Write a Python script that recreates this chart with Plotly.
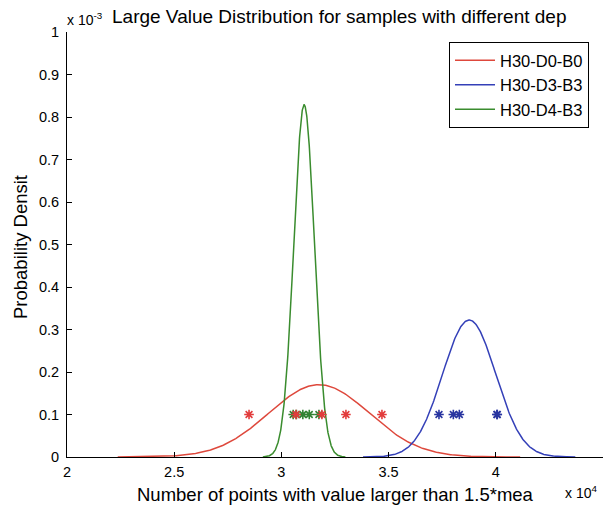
import numpy as np
import plotly.graph_objects as go

# Sample counts (number of points with value larger than 1.5*mean) per configuration
labels = ["H30-D0-B0", "H30-D3-B3", "H30-D4-B3"]
samples_d0_b0 = [28490, 30680, 31890, 33010, 34690]
samples_d3_b3 = [37350, 38020, 38300, 40050, 40070]
samples_d4_b3 = [30550, 30700, 31000, 31300, 31750]
line_colors = ["rgb(222,72,60)", "rgb(52,64,184)", "rgb(58,140,46)"]
star_colors = ["rgb(226,60,60)", "rgb(40,52,160)", "rgb(50,130,50)"]
star_level = 1e-4  # height at which the raw samples are marked

x_ticks = [20000, 25000, 30000, 35000, 40000, 45000]
x_tick_text = ["2", "2.5", "3", "3.5", "4", "4.5"]
y_ticks = [i * 1e-4 for i in range(11)]
y_tick_text = ["0", "0.1", "0.2", "0.3", "0.4", "0.5", "0.6", "0.7", "0.8", "0.9", "1"]

FONT = "Liberation Sans, Arial, sans-serif"

fig = go.Figure()

groups = [samples_d0_b0, samples_d3_b3, samples_d4_b3]

# Normal density fitted to each group (mean, sample std), drawn over mean +/- 4 sd
for name, s, col in zip(labels, groups, line_colors):
    arr = np.array(s, dtype=float)
    mu, sd = arr.mean(), arr.std(ddof=1)
    xs = np.linspace(mu - 4 * sd, mu + 4 * sd, 400)
    ys = np.exp(-0.5 * ((xs - mu) / sd) ** 2) / (sd * np.sqrt(2 * np.pi))
    fig.add_trace(go.Scatter(x=xs, y=ys, mode="lines", name=name,
                             line=dict(color=col, width=1.5)))

# Raw samples as asterisks
for idx in [2, 1, 0]:
    s = groups[idx]
    fig.add_trace(go.Scatter(x=s, y=[star_level] * len(s), mode="markers",
                             showlegend=False,
                             marker=dict(symbol="asterisk-open", size=8,
                                         color=star_colors[idx],
                                         line=dict(color=star_colors[idx], width=1.6))))

L, R, T, B = 67, 8, 32, 49
W, H = 611, 506
pw, ph = W - L - R, H - T - B

def px_x(p):
    return (p - L) / pw

def px_y(p):
    return (H - B - p) / ph

fig.update_layout(
    width=W, height=H,
    margin=dict(l=L, r=R, t=T, b=B),
    paper_bgcolor="white", plot_bgcolor="white",
    font=dict(family=FONT, size=14, color="black"),
    showlegend=True,
    legend=dict(x=px_x(449), y=px_y(42), xanchor="left", yanchor="top",
                bordercolor="black", borderwidth=1, bgcolor="white",
                font=dict(size=16.5), tracegroupgap=0, itemwidth=40),
    xaxis=dict(range=[20000, 45000], tickvals=x_ticks, ticktext=x_tick_text,
               showgrid=False, zeroline=False, showline=True, linecolor="black",
               linewidth=1, ticks="inside", ticklen=5, tickcolor="black",
               tickfont=dict(size=14.5), ticklabelstandoff=2),
    yaxis=dict(range=[0, 1e-3], tickvals=y_ticks, ticktext=y_tick_text,
               showgrid=False, zeroline=False, showline=True, linecolor="black",
               linewidth=1, ticks="inside", ticklen=5, tickcolor="black",
               tickfont=dict(size=14.5), ticklabelstandoff=4),
)

annotations = [
    dict(text="Large Value Distribution for samples with different dep",
         x=px_x(110), y=px_y(17), xanchor="left", yanchor="middle",
         font=dict(size=19)),
    dict(text="x 10<sup>-3</sup>", x=px_x(65), y=px_y(19), xanchor="left",
         yanchor="middle", font=dict(size=14)),
    dict(text="Number of points with value larger than 1.5*mea",
         x=px_x(135), y=px_y(494), xanchor="left", yanchor="middle",
         font=dict(size=18.5)),
    dict(text="x 10<sup>4</sup>", x=px_x(563), y=px_y(492), xanchor="left",
         yanchor="middle", font=dict(size=14)),
    dict(text="Probability Densit", x=px_x(20), y=px_y(247), xanchor="center",
         yanchor="middle", textangle=-90, font=dict(size=18.5)),
]
for a in annotations:
    a.update(xref="paper", yref="paper", showarrow=False)
fig.update_layout(annotations=annotations)

fig.write_html("out.html")
